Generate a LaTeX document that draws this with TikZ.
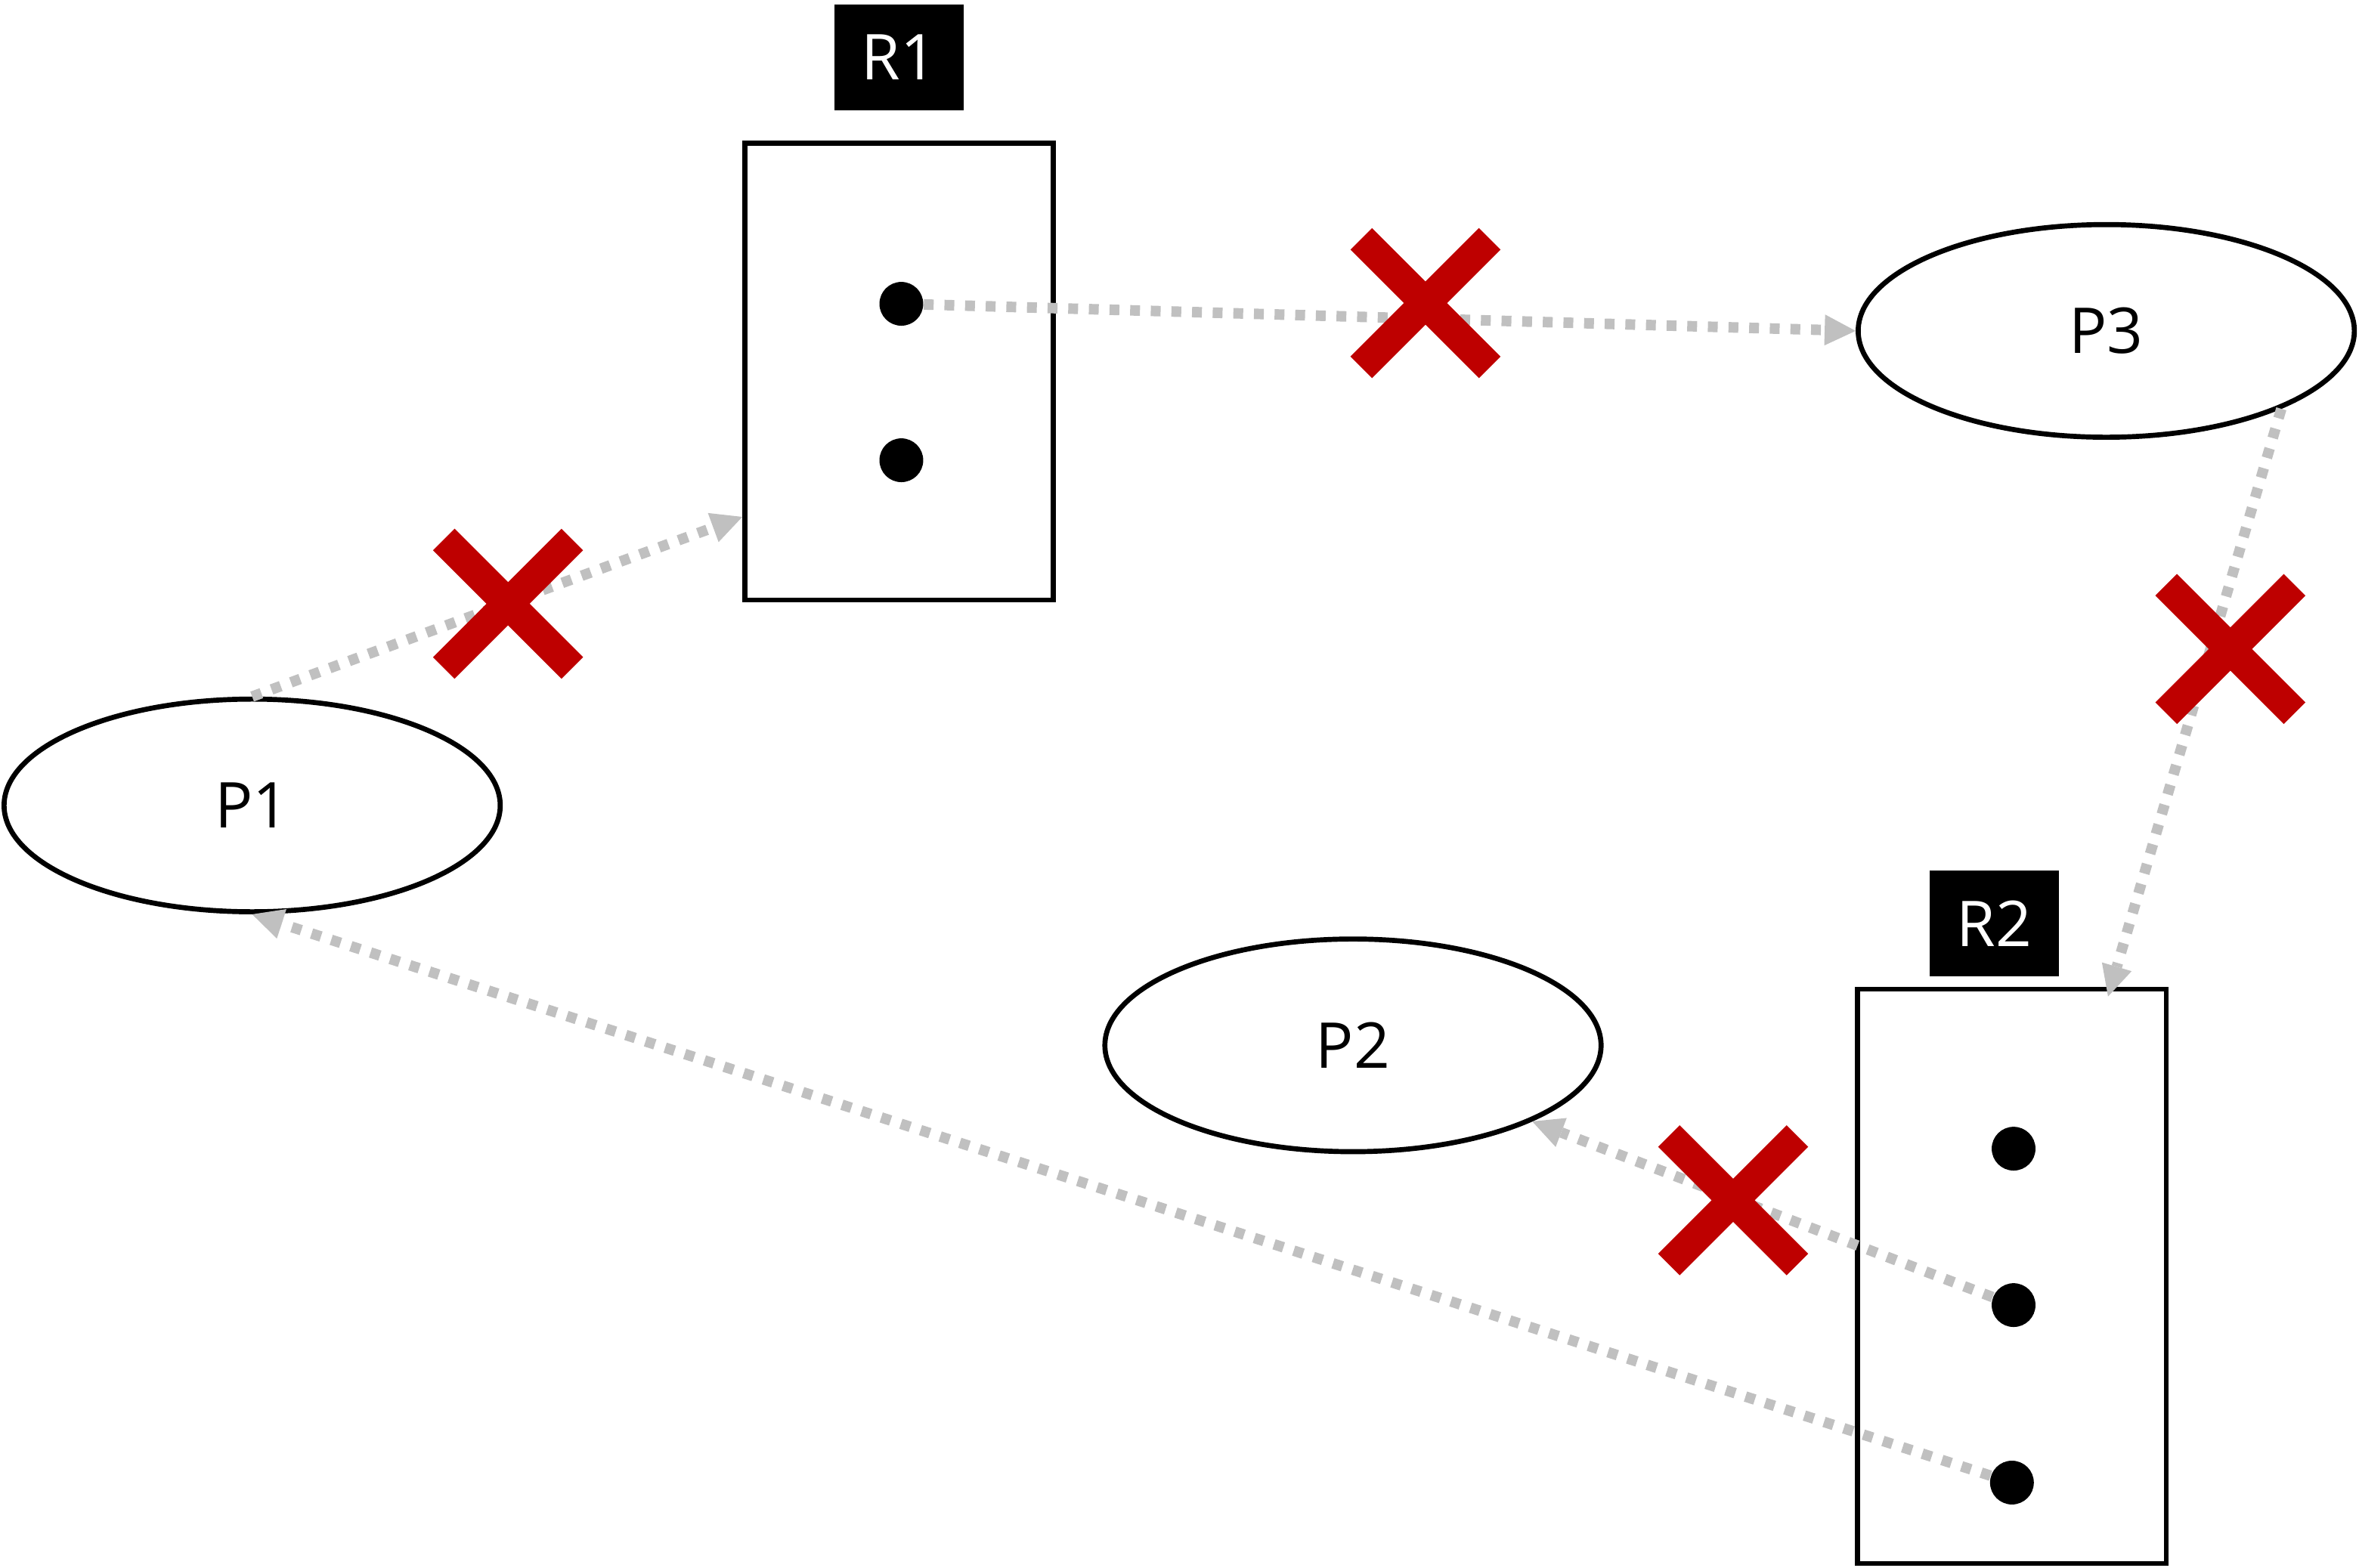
\documentclass[tikz,border=0pt]{standalone}
\usepackage{fontspec}
\setmainfont{Open Sans}
\usetikzlibrary{arrows.meta,calc,shapes.geometric}
\definecolor{xred}{RGB}{190,0,0}
\definecolor{arrgray}{RGB}{192,192,192}
\begin{document}
\begin{tikzpicture}[x=0.5pt,y=-0.5pt,
  proc/.style={ellipse,draw,line width=1.68pt,minimum width=164.9pt,minimum height=70.7pt,inner sep=0pt,font=\fontsize{21}{25}\selectfont},
  res/.style={rectangle,draw,line width=1.68pt,minimum width=102.5pt,inner sep=0pt},
  tag/.style={rectangle,fill=black,text=white,minimum width=42.95pt,minimum height=35.2pt,inner sep=0pt,font=\fontsize{21}{25}\selectfont},
  dot/.style={circle,fill=black,minimum size=14.55pt,inner sep=0pt},
  req/.style={draw=arrgray,line width=3.5pt,dash pattern=on 3.27pt off 3.59pt,-{Triangle[length=10.3pt,width=10.3pt,line width=0pt]}},
  cross/.style={draw=xred,line width=10.15pt}
]
\useasboundingbox (0,0) rectangle (1568,1042);
% resources
\node[res,minimum height=151.85pt] (R1) at (597.6,247.05) {};
\node[tag] (R1t) at (597.6,38.2) {R1};
\node[dot] (R1a) at (599.1,202) {};
\node[dot] (R1b) at (599.1,306) {};
\node[res,minimum height=190.9pt] (R2) at (1337.3,848.6) {};
\node[tag] (R2t) at (1325.4,614) {R2};
\node[dot] (R2a) at (1338.4,763.7) {};
\node[dot] (R2b) at (1338.4,867.7) {};
\node[dot] (R2c) at (1337.3,985.7) {};
% processes
\node[proc] (P1) at (167.6,535.5) {P1};
\node[proc] (P2) at (899.3,695) {P2};
\node[proc] (P3) at (1400,220) {P3};
% arrow end points
\coordinate (r1in) at ($(R1.north west)!0.8146!(R1.south west)$);
\coordinate (r2in) at ($(R2.north west)!0.8065!(R2.north east)+(0,6.5)$);
% connectors
\draw[req] (P1.north) -- (r1in);
\draw[req] (R1a) -- (P3.west);
\draw[req] (P3.-24) -- (r2in);
\draw[req] (R2b) -- (P2.-23);
\draw[req] (R2c) -- (P1.south);
% crosses
\coordinate (X1) at (337.7,401.4);
\coordinate (X2) at (947.5,201.5);
\coordinate (X3) at (1482.5,431.5);
\coordinate (X4) at (1152,798);
\foreach \xm in {X1,X2,X3,X4} {
  \draw[cross] ($(\xm)+(-42.7,-42.7)$) -- ($(\xm)+(42.7,42.7)$)
               ($(\xm)+(-42.7,42.7)$) -- ($(\xm)+(42.7,-42.7)$);
}
\end{tikzpicture}
\end{document}
